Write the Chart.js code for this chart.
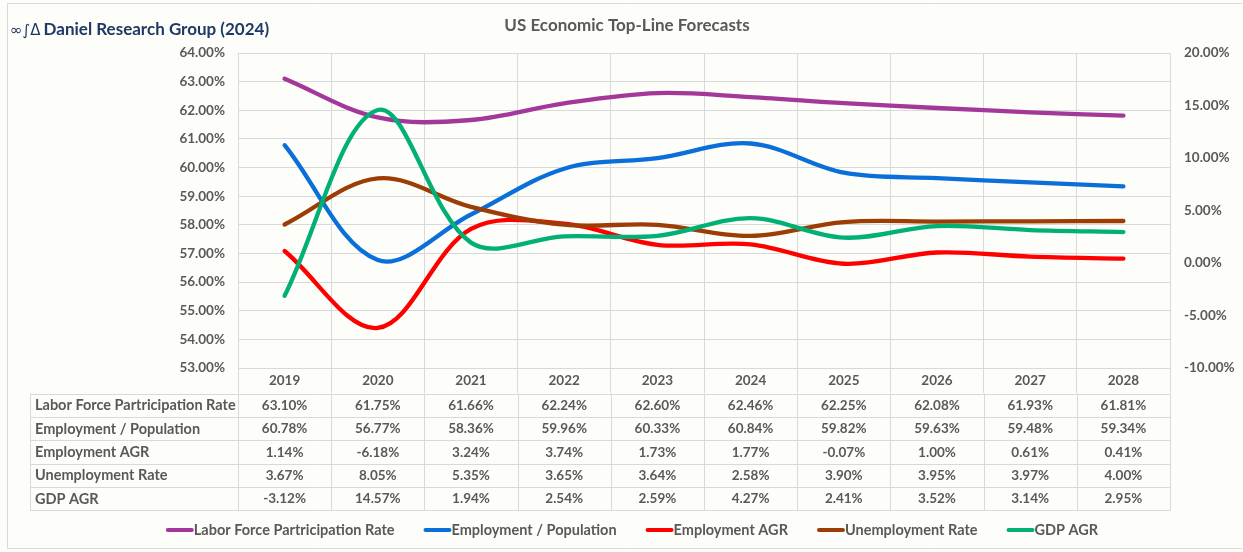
<!DOCTYPE html>
<html>
<head>
<meta charset="utf-8">
<script src="https://cdn.jsdelivr.net/npm/chart.js@4.4.1/dist/chart.umd.min.js"></script>
<style>
  html, body { margin: 0; padding: 0; background: #ffffff; }
  #wrap { width: 1243px; height: 552px; }
</style>
</head>
<body>
<div id="wrap"><canvas id="c" width="1243" height="552"></canvas></div>
<script>
// ---- Data ----
const years = ['2019','2020','2021','2022','2023','2024','2025','2026','2027','2028'];
const seriesNames = ['Labor Force Partricipation Rate','Employment / Population','Employment AGR','Unemployment Rate','GDP AGR'];
const laborForce   = [63.10, 61.75, 61.66, 62.24, 62.60, 62.46, 62.25, 62.08, 61.93, 61.81];
const empPop       = [60.78, 56.77, 58.36, 59.96, 60.33, 60.84, 59.82, 59.63, 59.48, 59.34];
const empAGR       = [1.14, -6.18, 3.24, 3.74, 1.73, 1.77, -0.07, 1.00, 0.61, 0.41];
const unempRate    = [3.67, 8.05, 5.35, 3.65, 3.64, 2.58, 3.90, 3.95, 3.97, 4.00];
const gdpAGR       = [-3.12, 14.57, 1.94, 2.54, 2.59, 4.27, 2.41, 3.52, 3.14, 2.95];
const leftAxisRange  = [53, 64];
const rightAxisRange = [-10, 20];
const titleText = 'US Economic Top-Line Forecasts';
const brandSymbol = '\u221E\u222B\u0394';
const brandText = 'Daniel Research Group (2024)';

const colors = ['#A3379A', '#0A6FD8', '#FF0000', '#9C3D06', '#00B074'];
const seriesValues = [laborForce, empPop, empAGR, unempRate, gdpAGR];
const axisOf = ['y', 'y', 'y1', 'y1', 'y1'];
const GRID = '#d9d9d9';
const TXT = '#595959';
const FONT = 'Lato, "Open Sans", sans-serif';

const pct = v => v.toFixed(2) + '%';

const decorPlugin = {
  id: 'decor',
  beforeDraw(chart) {
    const ctx = chart.ctx;
    ctx.save();
    ctx.fillStyle = '#fdfdf9';
    ctx.fillRect(0, 0, chart.width, chart.height);
    ctx.strokeStyle = GRID;
    ctx.lineWidth = 1;
    ctx.beginPath();
    ctx.moveTo(7.5, 548.5); ctx.lineTo(7.5, 3.5); ctx.lineTo(1242, 3.5);
    ctx.moveTo(7.5, 548.5); ctx.lineTo(1242, 548.5);
    ctx.stroke();
    ctx.restore();
  },
  afterDraw(chart) {
    const ctx = chart.ctx;
    const x = chart.scales.x;
    ctx.save();
    // brand
    ctx.textBaseline = 'alphabetic';
    ctx.textAlign = 'left';
    ctx.fillStyle = '#1F3864';
    ctx.font = '15px "DejaVu Sans", sans-serif';
    ctx.fillText(brandSymbol, 10, 35);
    const bw = ctx.measureText(brandSymbol).width;
    ctx.font = 'bold 17px ' + FONT;
    ctx.fillText(brandText, 10 + bw + 3, 35);
    // title
    ctx.fillStyle = TXT;
    ctx.textAlign = 'center';
    ctx.font = 'bold 17px ' + FONT;
    ctx.fillText(titleText, 627, 31);

    // x labels
    ctx.font = 'bold 13.5px ' + FONT;
    ctx.textBaseline = 'middle';
    years.forEach((y, i) => ctx.fillText(y, x.getPixelForValue(i), 381));

    // data table
    const top = 393.5, rowH = 23.35, tLeft = 30.5, tRight = Math.round(x.right) + 0.5;
    const nRows = seriesNames.length;
    ctx.strokeStyle = GRID;
    ctx.lineWidth = 1;
    ctx.beginPath();
    for (let r = 0; r <= nRows; r++) {
      const yy = Math.round(top + r * rowH) + 0.5;
      ctx.moveTo(tLeft, yy); ctx.lineTo(tRight, yy);
    }
    const bottom = Math.round(top + nRows * rowH) + 0.5;
    ctx.moveTo(tLeft, top); ctx.lineTo(tLeft, bottom);
    const step = (x.right - x.left) / years.length;
    for (let k = 0; k <= years.length; k++) {
      const xx = Math.round(x.left + k * step) + 0.5;
      ctx.moveTo(xx, top); ctx.lineTo(xx, bottom);
    }
    ctx.stroke();

    ctx.fillStyle = TXT;
    for (let r = 0; r < nRows; r++) {
      const yc = top + r * rowH + rowH / 2 + 0.5;
      ctx.textAlign = 'left';
      ctx.font = 'bold 14.5px ' + FONT;
      ctx.fillText(seriesNames[r], 35, yc);
      ctx.textAlign = 'center';
      ctx.font = 'bold 13.5px ' + FONT;
      seriesValues[r].forEach((v, i) => ctx.fillText(pct(v), x.getPixelForValue(i), yc));
    }

    // legend
    const sample = 28, gap = 29, ly = 530;
    ctx.font = 'bold 14.5px ' + FONT;
    const widths = seriesNames.map(n => ctx.measureText(n).width);
    const total = widths.reduce((a, w) => a + sample + w, 0) + gap * (seriesNames.length - 1);
    let lx = 632 - total / 2;
    ctx.textAlign = 'left';
    ctx.lineCap = 'round';
    seriesNames.forEach((n, i) => {
      ctx.strokeStyle = colors[i];
      ctx.lineWidth = 4;
      ctx.beginPath();
      ctx.moveTo(lx + 2, ly); ctx.lineTo(lx + sample - 2, ly);
      ctx.stroke();
      ctx.fillStyle = TXT;
      ctx.fillText(n, lx + sample, ly);
      lx += sample + widths[i] + gap;
    });
    ctx.restore();
  }
};

const datasets = seriesNames.map((n, i) => ({
  label: n,
  data: seriesValues[i],
  yAxisID: axisOf[i],
  borderColor: colors[i],
  backgroundColor: colors[i],
  borderWidth: 4.3,
  borderCapStyle: 'round',
  borderJoinStyle: 'round',
  pointRadius: 0,
  pointHoverRadius: 0,
  tension: 0.35,
  fill: false,
  order: seriesNames.length - i
}));

new Chart(document.getElementById('c'), {
  type: 'line',
  data: { labels: years, datasets },
  plugins: [decorPlugin],
  options: {
    responsive: false,
    animation: false,
    events: [],
    layout: { padding: { top: 53, bottom: 159, left: 0, right: 0 } },
    plugins: { legend: { display: false }, title: { display: false }, tooltip: { enabled: false } },
    scales: {
      x: {
        offset: true,
        grid: { offset: true, color: GRID, tickLength: 25, drawTicks: true, tickColor: GRID },
        border: { display: true, color: GRID },
        ticks: { display: false },
        afterFit(s) { s.height = 25; }
      },
      y: {
        position: 'left',
        min: leftAxisRange[0], max: leftAxisRange[1],
        ticks: { stepSize: 1, color: TXT, font: { family: FONT, size: 13.5, weight: 'bold' }, padding: 13,
                 callback: v => pct(v) },
        grid: { color: GRID, drawTicks: false },
        border: { display: false },
        afterFit(s) { s.width = 238; }
      },
      y1: {
        position: 'right',
        min: rightAxisRange[0], max: rightAxisRange[1],
        ticks: { stepSize: 5, color: TXT, font: { family: FONT, size: 13.5, weight: 'bold' }, padding: 14,
                 callback: v => pct(v) },
        grid: { display: false, drawTicks: false },
        border: { display: false },
        afterFit(s) { s.width = 73; }
      }
    }
  }
});
</script>
</body>
</html>
